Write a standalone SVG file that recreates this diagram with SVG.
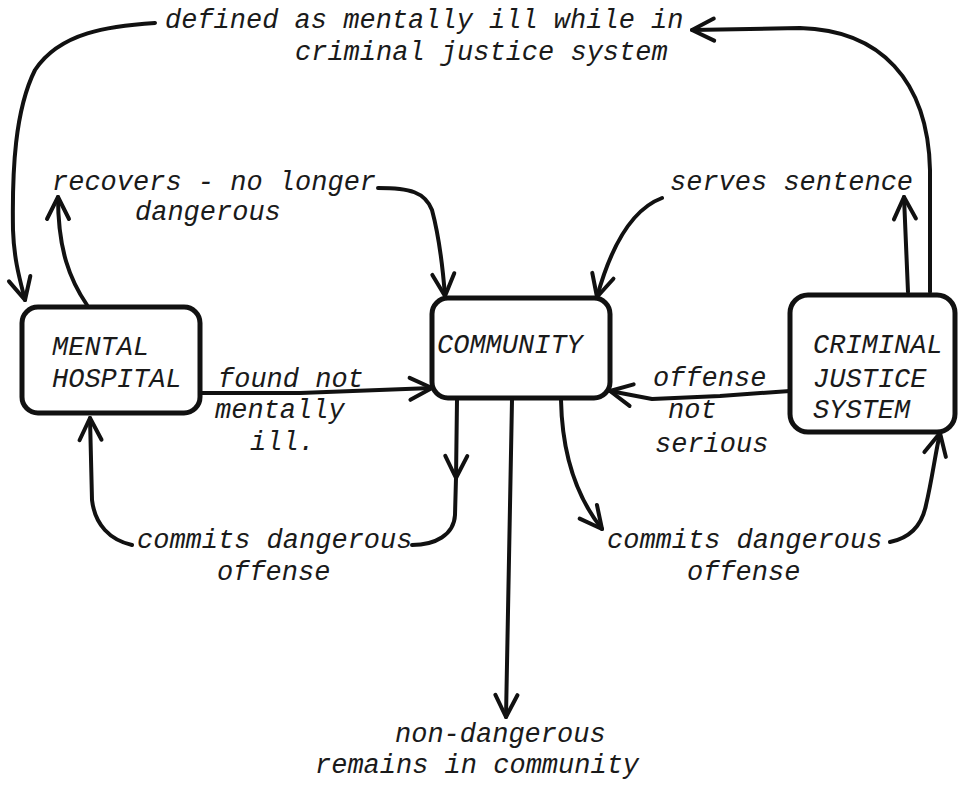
<svg xmlns="http://www.w3.org/2000/svg" width="959" height="785" viewBox="0 0 959 785">
<style>
.t{font-family:"Liberation Mono","Courier New",monospace;font-style:italic;font-size:27px;fill:#1a1a1a}
.box{fill:none;stroke:#111;stroke-width:5}
.c{fill:none;stroke:#111;stroke-width:4;stroke-linecap:round;stroke-linejoin:round}
</style>
<defs>
<marker id="ah" viewBox="0 0 30 30" refX="26" refY="15" markerWidth="30" markerHeight="30" markerUnits="userSpaceOnUse" orient="auto">
<path d="M4,4 L26,15 L4,26" fill="none" stroke="#111" stroke-width="4" stroke-linecap="round" stroke-linejoin="round"/>
</marker>
</defs>
<rect width="959" height="785" fill="#fff"/>
<g id="mental-hospital">
<rect class="box" x="22" y="307" width="178" height="106" rx="16"/>
<text class="t" x="52" y="355">MENTAL</text>
<text class="t" x="52" y="387">HOSPITAL</text>
</g>
<g id="community">
<rect class="box" x="432" y="298" width="178" height="100" rx="16"/>
<text class="t" x="437" y="353">COMMUNITY</text>
</g>
<g id="criminal-justice-system">
<rect class="box" x="790" y="295" width="165" height="137" rx="18"/>
<text class="t" x="813" y="353">CRIMINAL</text>
<text class="t" x="813" y="387">JUSTICE</text>
<text class="t" x="813" y="418">SYSTEM</text>
</g>
<g id="labels">
<text class="t" x="165" y="28">defined as mentally ill while in</text>
<text class="t" x="295" y="60">criminal justice system</text>
<text class="t" x="52" y="190">recovers - no longer</text>
<text class="t" x="135" y="220">dangerous</text>
<text class="t" x="670" y="190">serves sentence</text>
<text class="t" x="218" y="387">found not</text>
<text class="t" x="215" y="418">mentally</text>
<text class="t" x="250" y="450">ill.</text>
<text class="t" x="653" y="386">offense</text>
<text class="t" x="668" y="418">not</text>
<text class="t" x="655" y="452">serious</text>
<text class="t" x="137" y="548">commits dangerous</text>
<text class="t" x="217" y="580">offense</text>
<text class="t" x="607" y="548">commits dangerous</text>
<text class="t" x="687" y="580">offense</text>
<text class="t" x="395" y="742">non-dangerous</text>
<text class="t" x="315" y="773">remains in community</text>
</g>
<g id="connectors">
<path class="c" d="M930,292 L930,170 C928,80 880,30 800,28 L692,30" marker-end="url(#ah)"/>
<path class="c" d="M155,23 C110,26 60,32 35,70 C15,110 12,170 13,230 C14,260 20,280 25,300" marker-end="url(#ah)"/>
<path class="c" d="M87,305 C70,280 58,250 58,197" marker-end="url(#ah)"/>
<path class="c" d="M378,188 C410,188 425,192 432,210 C440,240 443,270 445,296" marker-end="url(#ah)"/>
<path class="c" d="M908,292 L904,197" marker-end="url(#ah)"/>
<path class="c" d="M662,198 C630,210 610,250 597,297" marker-end="url(#ah)"/>
<path class="c" d="M200,393 L300,393 L432,388" marker-end="url(#ah)"/>
<path class="c" d="M790,391 L720,396 L652,399 L610,391" marker-end="url(#ah)"/>
<path class="c" d="M457,400 L456,478" marker-end="url(#ah)"/>
<path class="c" d="M456,478 L455,515 C454,535 435,545 412,545"/>
<path class="c" d="M132,545 C110,540 95,525 92,500 L90,418" marker-end="url(#ah)"/>
<path class="c" d="M561,400 C562,450 575,495 602,529" marker-end="url(#ah)"/>
<path class="c" d="M890,542 C910,538 922,525 926,505 C932,480 935,455 940,433" marker-end="url(#ah)"/>
<path class="c" d="M512,400 L506,717" marker-end="url(#ah)"/>
</g>
</svg>
